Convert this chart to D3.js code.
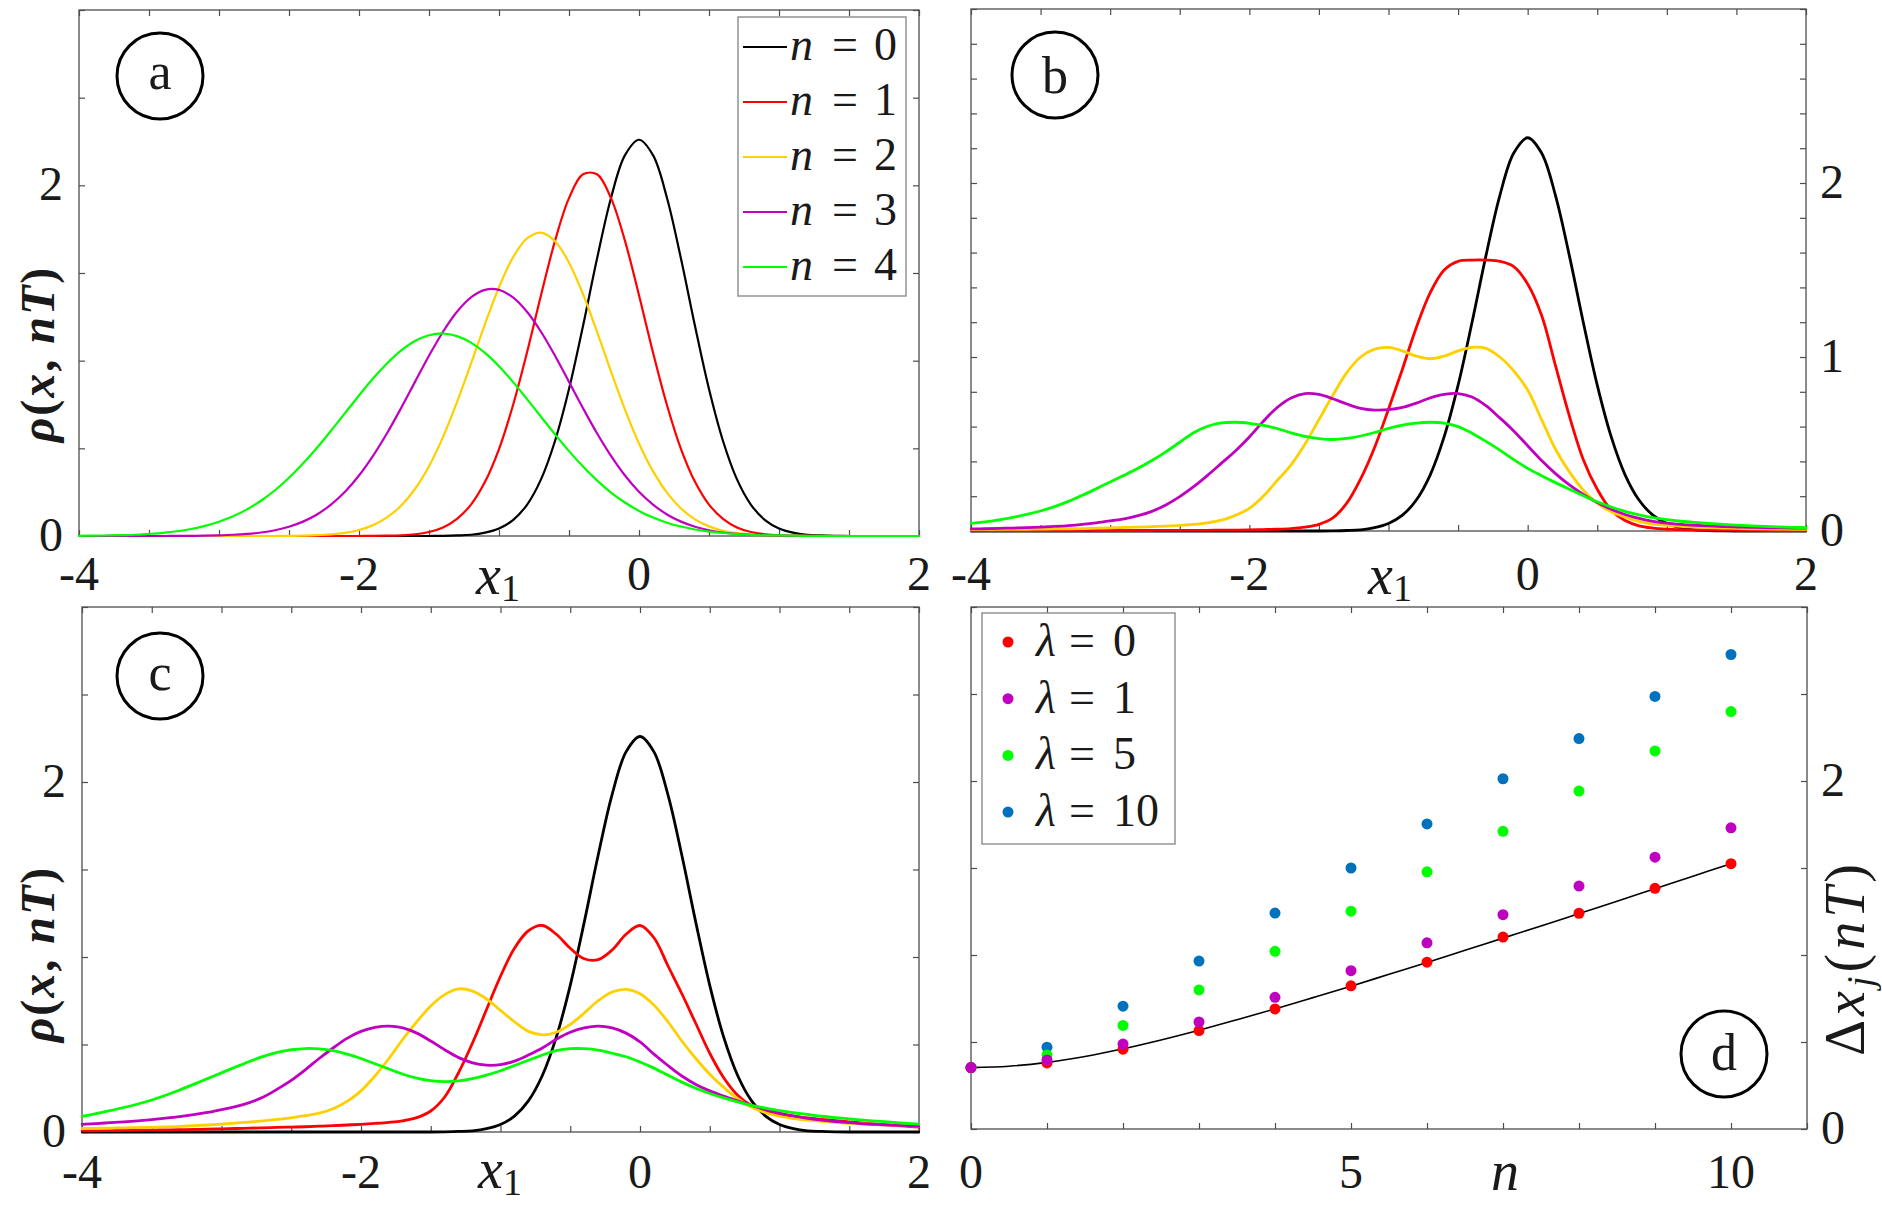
<!DOCTYPE html>
<html>
<head>
<meta charset="utf-8">
<script src="https://cdn.jsdelivr.net/npm/d3@7/dist/d3.min.js"></script>
<style>
html,body{margin:0;padding:0;background:#fff;}
svg{display:block;}
svg text{font-family:"Liberation Serif","DejaVu Serif","Tinos","Times New Roman",serif;fill:#1a1a1a;}
</style>
</head>
<body>
<svg id="fig" width="1882" height="1207" font-family="'Liberation Serif','DejaVu Serif',serif"></svg>
<script>
// ------------------------- DATA -------------------------
const xGrid = [-4,-3.9,-3.8,-3.7,-3.6,-3.5,-3.4,-3.3,-3.2,-3.1,-3,-2.9,-2.8,-2.7,-2.6,-2.5,-2.4,-2.3,-2.2,-2.1,-2,-1.9,-1.8,-1.7,-1.6,-1.5,-1.4,-1.3,-1.2,-1.1,-1,-0.9,-0.8,-0.7,-0.6,-0.5,-0.4,-0.3,-0.2,-0.1,0,0.1,0.2,0.3,0.4,0.5,0.6,0.7,0.8,0.9,1,1.1,1.2,1.3,1.4,1.5,1.6,1.7,1.8,1.9,2];

const seriesLabels = ["0","1","2","3","4"];

// initial state n = 0 (same in panels a, b, c)
const rhoN0 = [0,0,0,0,0,0,0,0,0,0,0,0,0,0,0,0,0,0,0,0,0,0,0,0,0,0,
  0.001,0.003,0.007,0.019,0.043,0.091,0.178,0.323,0.542,0.838,1.198,1.581,1.928,2.172,
  2.26,2.172,1.928,1.581,1.198,0.838,0.542,0.323,0.178,0.091,0.043,0.019,0.007,0.003,0.001,
  0,0,0,0,0,0];

// panel a
const rhoA1 = [0,0,0,0,0,0,0,0,0,0,0,0,0,0,0,0,0,0,0,0,0,
  0.001,0.002,0.004,0.010,0.023,0.049,0.098,0.179,0.309,0.496,0.746,1.047,1.373,1.683,1.927,2.063,
  2.063,1.927,1.683,1.373,1.047,0.746,0.496,0.309,0.179,0.098,0.049,0.023,0.010,0.004,0.002,0.001,
  0,0,0,0,0,0,0,0];
const rhoA2 = [0,0,0,0,0,0,0,0,0,0,0,0,0,0,0,
  0.001,0.002,0.005,0.009,0.018,0.034,0.062,0.106,0.172,0.268,0.398,0.564,0.763,0.983,1.209,1.419,
  1.589,1.697,1.73,1.681,1.559,1.380,1.165,0.938,0.721,0.528,0.370,0.247,0.157,0.095,0.055,0.030,
  0.016,0.008,0.004,0.002,0.001,
  0,0,0,0,0,0,0,0,0];
const rhoA3 = [0,0,0,0,0,0,0,
  0.001,0.001,0.002,0.004,0.007,0.012,0.020,0.033,0.053,0.082,0.123,0.179,0.252,0.345,0.457,0.586,
  0.729,0.879,1.028,1.165,1.279,1.361,1.404,1.404,1.361,1.279,1.165,1.028,0.879,0.729,0.586,0.457,
  0.345,0.252,0.179,0.123,0.082,0.053,0.033,0.020,0.012,0.007,0.004,0.002,0.001,0.001,
  0,0,0,0,0,0,0,0];
const rhoA4 = [0.001,0.002,0.003,0.005,0.007,0.012,0.018,0.027,0.040,0.058,0.081,0.112,0.152,0.201,
  0.261,0.332,0.413,0.503,0.600,0.701,0.801,0.898,0.984,1.057,1.112,1.145,1.155,1.140,1.103,1.044,
  0.968,0.879,0.781,0.680,0.580,0.484,0.396,0.317,0.248,0.191,0.143,0.105,0.076,0.054,0.037,0.025,
  0.017,0.011,0.007,0.004,0.003,0.002,0.001,0.001,
  0,0,0,0,0,0,0];

// panel b
const rhoB1 = [0.002,0.002,0.002,0.002,0.002,0.002,0.002,0.002,0.003,0.003,0.003,
  0.003,0.003,0.003,0.004,0.004,0.004,0.004,0.005,0.005,
  0.006,0.008,0.010,0.014,0.022,0.038,0.075,0.16,0.30,0.48,
  0.70,0.93,1.17,1.37,1.50,1.55,1.557,1.557,1.55,1.52,
  1.42,1.24,0.95,0.66,0.41,0.24,0.12,0.06,0.03,0.017,
  0.011,0.008,0.006,0.005,0.005,0.004,0.004,0.003,0.003,0.003,0.003];
const rhoB2 = [0.008,0.008,0.009,0.009,0.010,0.011,0.012,0.013,0.014,0.016,0.018,
  0.020,0.022,0.025,0.028,0.032,0.038,0.047,0.062,0.09,
  0.13,0.20,0.29,0.38,0.50,0.64,0.78,0.91,1.00,1.045,
  1.055,1.035,1.005,0.99,1.005,1.035,1.055,1.05,1.00,0.92,
  0.81,0.64,0.47,0.34,0.235,0.16,0.11,0.08,0.055,0.04,
  0.032,0.026,0.022,0.019,0.017,0.015,0.013,0.012,0.011,0.010,0.009];
const rhoB3 = [0.012,0.013,0.015,0.017,0.019,0.022,0.026,0.031,0.038,0.047,0.058,
  0.07,0.088,0.113,0.15,0.198,0.255,0.32,0.39,0.46,
  0.54,0.63,0.71,0.765,0.79,0.785,0.76,0.73,0.705,0.695,
  0.697,0.71,0.735,0.765,0.785,0.79,0.77,0.72,0.65,0.575,
  0.49,0.405,0.33,0.265,0.21,0.163,0.125,0.095,0.072,0.056,
  0.045,0.038,0.033,0.029,0.026,0.023,0.021,0.019,0.018,0.017,0.016];
const rhoB4 = [0.043,0.052,0.064,0.078,0.095,0.115,0.14,0.17,0.205,0.243,0.282,
  0.32,0.36,0.405,0.455,0.51,0.565,0.602,0.621,0.625,
  0.619,0.607,0.589,0.564,0.544,0.531,0.526,0.532,0.546,0.566,
  0.59,0.608,0.62,0.625,0.62,0.60,0.562,0.515,0.465,0.41,
  0.36,0.318,0.278,0.24,0.203,0.168,0.138,0.113,0.093,0.077,
  0.065,0.056,0.049,0.043,0.038,0.034,0.030,0.027,0.024,0.021,0.019];

// panel c
const rhoC1 = [0.006,0.007,0.008,0.009,0.010,0.011,0.012,0.013,0.015,0.016,0.018,
  0.020,0.022,0.024,0.026,0.028,0.030,0.033,0.036,0.040,
  0.044,0.049,0.055,0.064,0.082,0.12,0.20,0.34,0.51,0.70,
  0.89,1.05,1.15,1.18,1.13,1.05,0.99,0.985,1.04,1.13,
  1.18,1.11,0.95,0.79,0.62,0.45,0.31,0.21,0.15,0.12,
  0.10,0.09,0.08,0.072,0.065,0.058,0.051,0.045,0.039,0.033,0.028];
const rhoC2 = [0.020,0.021,0.022,0.024,0.025,0.027,0.029,0.032,0.036,0.040,0.045,
  0.051,0.057,0.064,0.072,0.081,0.093,0.108,0.133,0.175,
  0.235,0.32,0.42,0.53,0.63,0.72,0.785,0.818,0.805,0.76,
  0.695,0.63,0.575,0.555,0.57,0.615,0.68,0.75,0.80,0.815,
  0.79,0.725,0.63,0.52,0.42,0.33,0.255,0.19,0.142,0.11,
  0.09,0.077,0.068,0.061,0.055,0.050,0.046,0.042,0.039,0.036,0.034];
const rhoC3 = [0.044,0.048,0.053,0.058,0.064,0.071,0.079,0.088,0.099,0.112,0.128,
  0.145,0.168,0.20,0.245,0.295,0.355,0.42,0.48,0.535,
  0.575,0.598,0.605,0.595,0.565,0.52,0.47,0.425,0.395,0.382,
  0.385,0.405,0.44,0.48,0.53,0.57,0.595,0.605,0.595,0.565,
  0.515,0.445,0.38,0.32,0.272,0.235,0.205,0.178,0.152,0.128,
  0.108,0.092,0.078,0.068,0.06,0.053,0.047,0.043,0.039,0.036,0.033];
const rhoC4 = [0.089,0.105,0.122,0.14,0.16,0.183,0.21,0.24,0.272,0.305,0.338,
  0.371,0.403,0.432,0.455,0.47,0.477,0.475,0.465,0.445,
  0.42,0.39,0.36,0.33,0.308,0.293,0.288,0.292,0.305,0.325,
  0.35,0.38,0.41,0.44,0.465,0.476,0.476,0.468,0.45,0.43,
  0.40,0.365,0.325,0.285,0.25,0.22,0.195,0.172,0.152,0.136,
  0.122,0.11,0.10,0.09,0.082,0.075,0.068,0.062,0.056,0.05,0.045];

// panel d
const nValues = [0,1,2,3,4,5,6,7,8,9,10];
const lambdaLabels = ["0","1","5","10"];
const dxLam0  = [0.353,0.380,0.459,0.566,0.690,0.823,0.959,1.103,1.240,1.383,1.525];
const dxLam1  = [0.353,0.397,0.488,0.615,0.757,0.910,1.070,1.232,1.396,1.562,1.731];
const dxLam5  = [0.353,0.426,0.595,0.799,1.021,1.252,1.478,1.711,1.942,2.173,2.399];
const dxLam10 = [0.353,0.470,0.706,0.965,1.241,1.500,1.753,2.013,2.244,2.486,2.727];
const nLine  = [0,0.5,1,1.5,2,2.5,3,3.5,4,4.5,5,5.5,6,6.5,7,7.5,8,8.5,9,9.5,10];
const dxLine = [0.353,0.361,0.383,0.417,0.461,0.512,0.568,0.628,0.690,0.755,0.821,0.889,0.957,1.027,1.097,1.167,1.238,1.309,1.381,1.453,1.525];

// ticks
const xTicksRho = [-4,-3.5,-3,-2.5,-2,-1.5,-1,-0.5,0,0.5,1,1.5,2];
const xTickLabelsRho = ["-4","-2","0","2"];
const xTickLabelValsRho = [-4,-2,0,2];
const yTicksAC = [0,0.5,1,1.5,2,2.5,3];
const yTickLabelValsAC = [0,2];
const yTicksB = [0,0.2,0.4,0.6,0.8,1,1.2,1.4,1.6,1.8,2,2.2,2.4,2.6,2.8,3];
const yTickLabelValsB = [0,1,2];
const xTicksD = [0,1,2,3,4,5,6,7,8,9,10,11];
const xTickLabelValsD = [0,5,10];
const yTicksD = [0,0.5,1,1.5,2,2.5,3];
const yTickLabelValsD = [0,2];

// ------------------------- STYLE / LAYOUT -------------------------
const SERIF = "'Liberation Serif','DejaVu Serif',serif";
const layout = {
  a:{x0:79, x1:919, y0:10, y1:536},
  b:{x0:971,x1:1806,y0:9, y1:531},
  c:{x0:82, x1:919, y0:607,y1:1132},
  d:{x0:971,x1:1807,y0:607,y1:1129}
};
const curveColors = ["#000000","#ff0000","#ffd000","#c000c0","#00ff00"];
const dotColors = ["#ff0000","#c000c0","#00ff00","#0072bd"];
const AXIS = "#4d4d4d";
const TICKFS = 48;

const svg = d3.select("#fig");
svg.append("rect").attr("width",1882).attr("height",1207).attr("fill","#fff");
const defs = svg.append("defs");

function T(sel){ return sel.append("text").attr("font-family",SERIF).attr("fill","#1a1a1a"); }

function makePanel(key, xDom, yDom){
  const P = layout[key];
  const xs = d3.scaleLinear().domain(xDom).range([P.x0,P.x1]);
  const ys = d3.scaleLinear().domain(yDom).range([P.y1,P.y0]);
  const g = svg.append("g").attr("class","panel-"+key);
  defs.append("clipPath").attr("id","clip-"+key).append("rect")
    .attr("x",P.x0-1).attr("y",P.y0-1).attr("width",P.x1-P.x0+2).attr("height",P.y1-P.y0+3);
  return {key,P,xs,ys,g};
}

function drawFrame(p, xTicks, yTicks){
  const {P,xs,ys,g} = p;
  const tl = 6;
  const mk = (axis, tr) => {
    const a = g.append("g").attr("transform",tr).attr("color",AXIS).call(axis);
    a.select(".domain").remove();
    a.selectAll("text").remove();
    a.selectAll("line").attr("stroke-width",1.2);
  };
  mk(d3.axisBottom(xs).tickValues(xTicks).tickSizeInner(-tl).tickSizeOuter(0), `translate(0,${P.y1})`);
  mk(d3.axisTop(xs).tickValues(xTicks).tickSizeInner(-tl).tickSizeOuter(0), `translate(0,${P.y0})`);
  mk(d3.axisLeft(ys).tickValues(yTicks).tickSizeInner(-tl).tickSizeOuter(0), `translate(${P.x0},0)`);
  mk(d3.axisRight(ys).tickValues(yTicks).tickSizeInner(-tl).tickSizeOuter(0), `translate(${P.x1},0)`);
  g.append("rect").attr("x",P.x0).attr("y",P.y0).attr("width",P.x1-P.x0).attr("height",P.y1-P.y0)
    .attr("fill","none").attr("stroke",AXIS).attr("stroke-width",1.3);
}

function xLabels(p, vals, labels, baseline){
  vals.forEach((v,i)=>{
    T(p.g).attr("x",p.xs(v)).attr("y",baseline).attr("text-anchor","middle")
      .attr("font-size",TICKFS).text(labels[i]);
  });
}
function yLabels(p, vals, side){
  vals.forEach(v=>{
    T(p.g).attr("x", side==="left" ? p.P.x0-16 : p.P.x1+14)
      .attr("y", p.ys(v)+15)
      .attr("text-anchor", side==="left" ? "end" : "start")
      .attr("font-size",TICKFS).text(String(v));
  });
}
function drawCurves(p, series, width){
  const line = d3.line().x(d=>p.xs(d[0])).y(d=>p.ys(d[1])).curve(d3.curveCatmullRom.alpha(0.5));
  const cg = p.g.append("g").attr("clip-path",`url(#clip-${p.key})`);
  series.forEach((s,i)=>{
    cg.append("path").datum(d3.zip(xGrid,s)).attr("d",line)
      .attr("fill","none").attr("stroke",curveColors[i]).attr("stroke-width",width)
      .attr("stroke-linejoin","round").attr("stroke-linecap","round");
  });
}
function panelBadge(cx, cy, letter, dyBase){
  svg.append("ellipse").attr("cx",cx).attr("cy",cy).attr("rx",43).attr("ry",43)
    .attr("fill","none").attr("stroke","#000").attr("stroke-width",3);
  T(svg).attr("x",cx).attr("y",cy+dyBase).attr("text-anchor","middle")
    .attr("font-size",52).text(letter);
}
function xAxisTitle(cx, baseline, main, sub){
  const t = T(svg).attr("x",cx).attr("y",baseline).attr("text-anchor","middle").attr("font-size",56);
  t.append("tspan").attr("font-style","italic").text(main);
  if(sub){ t.append("tspan").attr("font-size",38).attr("dy",7).text(sub); }
}
function rhoTitle(cx, cy){
  const t = T(svg).attr("transform",`translate(${cx},${cy}) rotate(-90)`)
    .attr("text-anchor","middle").attr("font-size",48).attr("font-weight","bold")
    .attr("letter-spacing",2);
  t.append("tspan").attr("font-style","italic").text("ρ");
  t.append("tspan").text("(");
  t.append("tspan").attr("font-style","italic").text("x");
  t.append("tspan").text(", ");
  t.append("tspan").attr("font-style","italic").text("nT");
  t.append("tspan").text(")");
}

// ------------------------- PANEL A -------------------------
const pa = makePanel("a",[-4,2],[0,3]);
drawFrame(pa, xTicksRho, yTicksAC);
drawCurves(pa, [rhoN0,rhoA1,rhoA2,rhoA3,rhoA4], 2.2);
xLabels(pa, xTickLabelValsRho, xTickLabelsRho, 590);
yLabels(pa, yTickLabelValsAC, "left");
{
  const lg = svg.append("g");
  lg.append("rect").attr("x",738).attr("y",17).attr("width",168).attr("height",279)
    .attr("fill","#fff").attr("stroke","#8c8c8c").attr("stroke-width",1.4);
  seriesLabels.forEach((lab,i)=>{
    const y = 47 + 55*i;
    lg.append("line").attr("x1",743).attr("x2",787).attr("y1",y).attr("y2",y)
      .attr("stroke",curveColors[i]).attr("stroke-width",2);
    T(lg).attr("x",790).attr("y",y+13).attr("font-size",46).attr("font-style","italic").text("n");
    T(lg).attr("x",832).attr("y",y+13).attr("font-size",46).text("=");
    T(lg).attr("x",874).attr("y",y+13).attr("font-size",46).text(lab);
  });
}
panelBadge(160,76,"a",13);
rhoTitle(54,354);
xAxisTitle(498,594,"x","1");

// ------------------------- PANEL B -------------------------
const pb = makePanel("b",[-4,2],[0,3]);
drawFrame(pb, xTicksRho, yTicksB);
drawCurves(pb, [rhoN0,rhoB1,rhoB2,rhoB3,rhoB4], 2.8);
xLabels(pb, xTickLabelValsRho, xTickLabelsRho, 590);
yLabels(pb, yTickLabelValsB, "right");
panelBadge(1055,75,"b",18);
xAxisTitle(1390,594,"x","1");

// ------------------------- PANEL C -------------------------
const pc = makePanel("c",[-4,2],[0,3]);
drawFrame(pc, xTicksRho, yTicksAC);
drawCurves(pc, [rhoN0,rhoC1,rhoC2,rhoC3,rhoC4], 2.8);
xLabels(pc, xTickLabelValsRho, xTickLabelsRho, 1188);
yLabels(pc, yTickLabelValsAC, "left");
panelBadge(160,676,"c",14);
rhoTitle(54,954);
xAxisTitle(500,1188,"x","1");

// ------------------------- PANEL D -------------------------
const pd = makePanel("d",[0,11],[0,3]);
drawFrame(pd, xTicksD, yTicksD);
{
  const line = d3.line().x(d=>pd.xs(d[0])).y(d=>pd.ys(d[1])).curve(d3.curveCatmullRom);
  pd.g.append("path").datum(d3.zip(nLine,dxLine)).attr("d",line)
    .attr("fill","none").attr("stroke","#000").attr("stroke-width",1.6);
  const sets = [
    {vals:dxLam10,c:dotColors[3]},{vals:dxLam5,c:dotColors[2]},
    {vals:dxLam0,c:dotColors[0]},{vals:dxLam1,c:dotColors[1]}];
  sets.forEach(s=>{
    pd.g.selectAll(null).data(d3.zip(nValues,s.vals)).enter().append("circle")
      .attr("cx",d=>pd.xs(d[0])).attr("cy",d=>pd.ys(d[1])).attr("r",5.5).attr("fill",s.c);
  });
}
xLabels(pd, xTickLabelValsD, xTickLabelValsD.map(String), 1188);
yLabels(pd, yTickLabelValsD, "right");
{
  const lg = svg.append("g");
  lg.append("rect").attr("x",982).attr("y",613).attr("width",193).attr("height",231)
    .attr("fill","#fff").attr("stroke","#8c8c8c").attr("stroke-width",1.4);
  lambdaLabels.forEach((lab,i)=>{
    const y = 642 + 56.7*i;
    lg.append("circle").attr("cx",1008).attr("cy",y).attr("r",5.5).attr("fill",dotColors[i]);
    T(lg).attr("x",1036).attr("y",y+14).attr("font-size",46).attr("font-style","italic").text("λ");
    T(lg).attr("x",1069).attr("y",y+14).attr("font-size",46).text("=");
    T(lg).attr("x",1113).attr("y",y+14).attr("font-size",46).text(lab);
  });
}
panelBadge(1724,1054,"d",16);
xAxisTitle(1505,1190,"n",null);
{
  const t = T(svg).attr("transform","translate(1864,958) rotate(-90)")
    .attr("text-anchor","middle").attr("font-size",56).attr("letter-spacing",4);
  t.append("tspan").text("Δ");
  t.append("tspan").attr("font-style","italic").text("x");
  t.append("tspan").attr("font-style","italic").attr("font-size",38).attr("dy",9).text("j");
  t.append("tspan").attr("dy",-9).text("(");
  t.append("tspan").attr("font-style","italic").text("nT");
  t.append("tspan").text(")");
}
</script>
</body>
</html>
